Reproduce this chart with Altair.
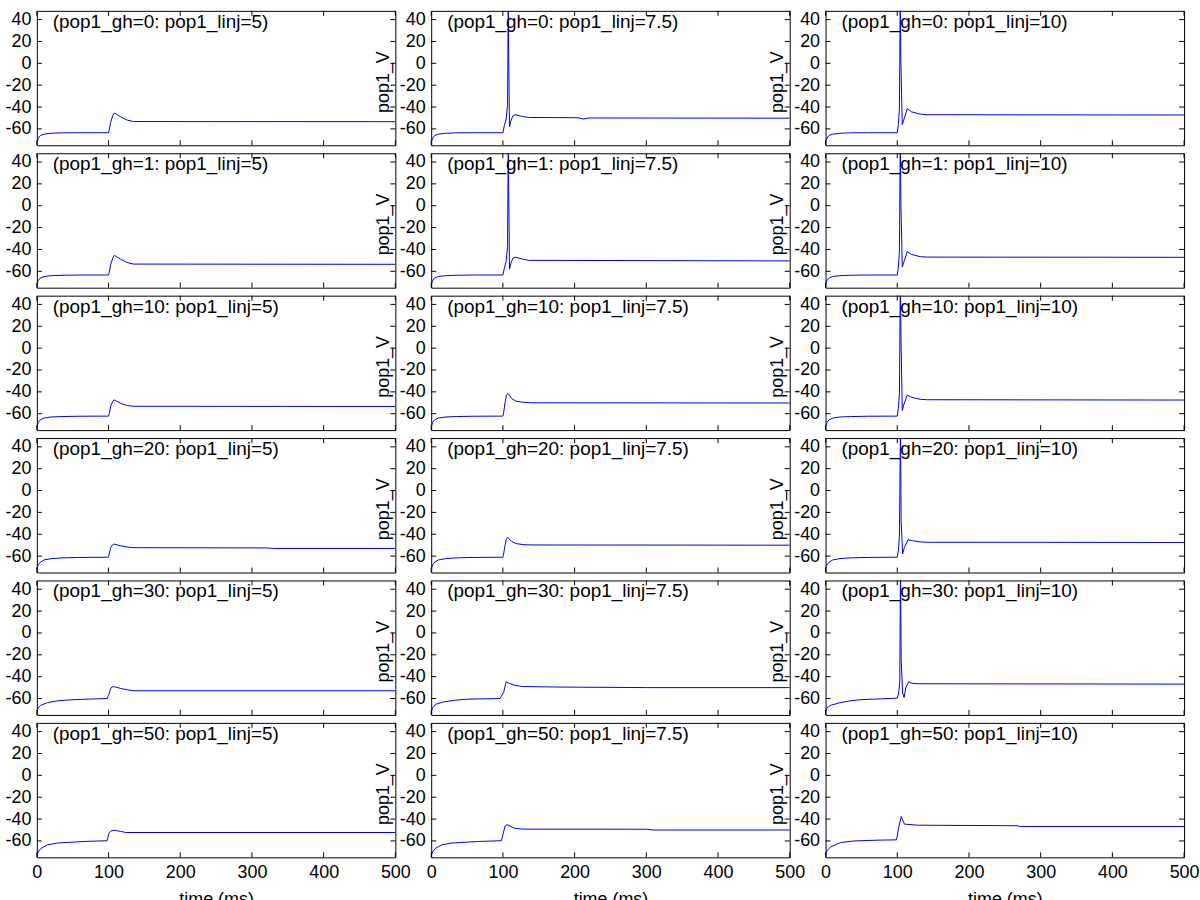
import altair as alt
import pandas as pd

gh_values = [0, 1, 10, 20, 30, 50]
linj_values = ["5", "7.5", "10"]
x_ticks = [0, 100, 200, 300, 400, 500]
y_ticks = [-60, -40, -20, 0, 20, 40]
x_domain = [0, 500]
y_domain = [-75, 48]

# ---- gh = 0 ----
t_gh0_i5 = [0, 2, 5, 10, 20, 35, 60, 100, 101, 103, 106, 108, 111, 117, 126, 135, 500]
v_gh0_i5 = [-72, -68.5, -66, -64.8, -64, -63.6, -63.5, -63.5, -61, -54, -47.5, -45.5, -46.5, -49, -52, -53.3, -53.4]
t_gh0_i75 = [0, 2, 5, 10, 20, 35, 60, 100, 102, 104.5, 106.5, 107.5, 108.1, 109.2, 111, 114, 117, 127, 136, 205, 212, 220, 500]
v_gh0_i75 = [-72, -68.5, -66, -64.8, -64, -63.6, -63.5, -63.5, -57, -51, -38, 60, 6, -58, -53, -48, -47, -48.6, -49.5, -49.8, -51, -50, -50.2]
t_gh0_i10 = [0, 2, 5, 10, 20, 35, 60, 100, 101.5, 103, 104.2, 105.1, 107, 109, 114, 120, 132, 142, 500]
v_gh0_i10 = [-72, -68.5, -66, -64.8, -64, -63.6, -63.5, -63.5, -56, -42, 60, 0, -56, -52, -41.5, -44.4, -46.5, -47, -47.3]

# ---- gh = 1 ----
t_gh1_i5 = [0, 2, 5, 10, 20, 35, 60, 100, 101, 103, 106, 108, 111, 117, 126, 135, 500]
v_gh1_i5 = [-72, -68.5, -66, -64.8, -64, -63.6, -63.4, -63.4, -61, -54, -47.5, -45.5, -46.5, -49, -52, -53.4, -53.6]
t_gh1_i75 = [0, 2, 5, 10, 20, 35, 60, 100, 102, 104.5, 106.5, 107.5, 108.1, 109.2, 111, 114, 117, 127, 136, 500]
v_gh1_i75 = [-72, -68.5, -66, -64.8, -64, -63.6, -63.4, -63.4, -57, -51, -38, 60, 13, -58, -53, -48, -47, -48.8, -50, -50.5]
t_gh1_i10 = [0, 2, 5, 10, 20, 35, 60, 100, 101.5, 103, 104.2, 105.1, 107, 109, 114, 120, 132, 142, 500]
v_gh1_i10 = [-72, -68.5, -66, -64.8, -64, -63.6, -63.4, -63.4, -56, -42, 60, 2, -56, -52, -42, -44.6, -46.6, -47, -47.2]

# ---- gh = 10 ----
t_gh10_i5 = [0, 2, 5, 10, 20, 35, 60, 100, 101, 103, 106, 108, 111, 117, 126, 135, 500]
v_gh10_i5 = [-72, -68, -65.5, -64, -63, -62.6, -62.3, -62.2, -60, -53, -48.5, -47.5, -48.5, -50.5, -52.5, -53.2, -53.4]
t_gh10_i75 = [0, 2, 5, 10, 20, 35, 60, 100, 101, 103, 105, 107, 109, 112, 118, 128, 140, 500]
v_gh10_i75 = [-72, -68, -65.5, -64, -63, -62.6, -62.3, -62.2, -59, -50, -43, -41.5, -43, -46, -48.5, -49.5, -50, -50.2]
t_gh10_i10 = [0, 2, 5, 10, 20, 35, 60, 100, 101.5, 103, 104.3, 105.2, 107, 109, 114, 120, 132, 142, 500]
v_gh10_i10 = [-72, -68, -65.5, -64, -63, -62.6, -62.3, -62.2, -55, -42, 60, 10, -57, -52, -43, -45, -46.8, -47.2, -47.5]

# ---- gh = 20 ----
t_gh20_i5 = [0, 2, 5, 10, 20, 35, 60, 100, 101, 103, 106, 108, 112, 120, 130, 140, 320, 330, 500]
v_gh20_i5 = [-72, -68, -65.5, -63.5, -62.3, -61.6, -61.2, -61, -58, -52, -49.5, -49, -49.8, -51, -52, -52.3, -52.5, -53, -53]
t_gh20_i75 = [0, 2, 5, 10, 20, 35, 60, 100, 101, 103, 105, 107, 109, 112, 118, 128, 140, 500]
v_gh20_i75 = [-72, -68, -65.5, -63.5, -62.3, -61.6, -61.2, -61, -58, -50, -44, -43, -44.5, -46.5, -48.5, -49.5, -49.8, -50]
t_gh20_i10 = [0, 2, 5, 10, 20, 35, 60, 100, 101.5, 103, 104.5, 105.4, 107.5, 110, 115, 121, 132, 142, 500]
v_gh20_i10 = [-72, -68, -65.5, -63.5, -62.3, -61.6, -61.2, -61, -55, -42, 60, -28, -58, -52, -45, -45.8, -47, -47.3, -47.5]

# ---- gh = 30 ----
t_gh30_i5 = [0, 2, 5.5, 15, 29, 47, 70, 98, 100.5, 103, 105, 110, 117, 126, 135, 500]
v_gh30_i5 = [-72, -68.5, -66.2, -63.7, -62.1, -61.2, -60.6, -60, -56, -51, -49.2, -49.5, -50.8, -52, -52.9, -52.9]
t_gh30_i75 = [0, 2, 6.5, 18, 34, 50, 96, 101, 104.6, 107, 115, 127, 178, 300, 500]
v_gh30_i75 = [-72, -68.5, -65.2, -63, -61.5, -60.6, -60, -54.5, -44.6, -45.5, -47.7, -49, -49.5, -50, -50]
t_gh30_i10 = [0, 2, 7, 19, 35, 50, 100, 102, 103.5, 104.5, 105.5, 107.5, 109.5, 112, 116, 120, 130, 500]
v_gh30_i10 = [-72, -68.5, -66.2, -64, -62, -61, -59.7, -55, -45, 60, -25, -55, -59, -50, -44.6, -46, -46.5, -46.8]

# ---- gh = 50 ----
t_gh50_i5 = [0, 2, 5.5, 15, 29, 66, 98, 100.5, 103, 105, 110, 117, 124, 500]
v_gh50_i5 = [-73, -70, -67, -63.5, -61.9, -60.5, -59.8, -53, -51, -50.4, -50.5, -51.3, -52.3, -52.3]
t_gh50_i75 = [0, 2, 5.5, 15, 29, 66, 98, 100.5, 103, 106, 110, 117, 128, 300, 310, 500]
v_gh50_i75 = [-73, -70, -67, -63.5, -61.9, -60.5, -59.8, -53, -46.5, -45, -46.5, -48.5, -49.2, -49.3, -50, -50]
t_gh50_i10 = [0, 2, 7, 21, 40, 72, 99, 102, 105.5, 108, 110, 128, 267, 272, 500]
v_gh50_i10 = [-73, -69, -65.5, -61.5, -60, -59.3, -59, -47.7, -37.8, -41.5, -44.6, -45.6, -46.1, -46.8, -46.8]

traces = {
    (0, "5"): (t_gh0_i5, v_gh0_i5), (0, "7.5"): (t_gh0_i75, v_gh0_i75), (0, "10"): (t_gh0_i10, v_gh0_i10),
    (1, "5"): (t_gh1_i5, v_gh1_i5), (1, "7.5"): (t_gh1_i75, v_gh1_i75), (1, "10"): (t_gh1_i10, v_gh1_i10),
    (10, "5"): (t_gh10_i5, v_gh10_i5), (10, "7.5"): (t_gh10_i75, v_gh10_i75), (10, "10"): (t_gh10_i10, v_gh10_i10),
    (20, "5"): (t_gh20_i5, v_gh20_i5), (20, "7.5"): (t_gh20_i75, v_gh20_i75), (20, "10"): (t_gh20_i10, v_gh20_i10),
    (30, "5"): (t_gh30_i5, v_gh30_i5), (30, "7.5"): (t_gh30_i75, v_gh30_i75), (30, "10"): (t_gh30_i10, v_gh30_i10),
    (50, "5"): (t_gh50_i5, v_gh50_i5), (50, "7.5"): (t_gh50_i75, v_gh50_i75), (50, "10"): (t_gh50_i10, v_gh50_i10),
}

W, H = 360, 135
FONT = "Liberation Sans"
LINE = "#0000e0"
TICK = 5


def make_axes(first_col, last_row):
    if last_row:
        xaxis = alt.Axis(values=x_ticks, ticks=False, domain=False, grid=False,
                         labelPadding=6, title="time (ms)", titlePadding=9,
                         labelFlush=False)
    else:
        xaxis = alt.Axis(values=x_ticks, ticks=False, domain=False, grid=False,
                         labels=False, title="")
    yaxis = alt.Axis(values=y_ticks, ticks=False, domain=False, grid=False,
                     labelPadding=6, labelExpr="datum.value + ''",
                     title=("" if first_col else "pop1_V"),
                     titleX=-39, titleY=71)
    return xaxis, yaxis


def panel(gh, linj, first_col, last_row):
    t, v = traces[(gh, linj)]
    df = pd.DataFrame({"t": t, "v": v})
    xs = alt.Scale(domain=x_domain, nice=False, zero=False)
    ys = alt.Scale(domain=y_domain, nice=False, zero=False)
    xaxis, yaxis = make_axes(first_col, last_row)
    X = alt.X("t:Q", scale=xs, axis=xaxis)
    Y = alt.Y("v:Q", scale=ys, axis=yaxis)
    line = alt.Chart(df).mark_line(color=LINE, strokeWidth=1, clip=True).encode(x=X, y=Y)
    xt = pd.DataFrame({"t": x_ticks})
    yt = pd.DataFrame({"v": y_ticks})
    bottom = alt.Chart(xt).mark_rule(color="black", strokeWidth=1).encode(
        x=X, y=alt.value(H), y2=alt.value(H - TICK))
    top = alt.Chart(xt).mark_rule(color="black", strokeWidth=1).encode(
        x=X, y=alt.value(0), y2=alt.value(TICK))
    left = alt.Chart(yt).mark_rule(color="black", strokeWidth=1).encode(
        y=Y, x=alt.value(0), x2=alt.value(TICK))
    right = alt.Chart(yt).mark_rule(color="black", strokeWidth=1).encode(
        y=Y, x=alt.value(W), x2=alt.value(W - TICK))
    lab = pd.DataFrame({"label": [f"(pop1_gh={gh}: pop1_linj={linj})"]})
    text = alt.Chart(lab).mark_text(align="left", baseline="middle", font=FONT,
                                    fontSize=19, color="black").encode(
        x=alt.value(16), y=alt.value(11), text="label:N")
    return alt.layer(line, bottom, top, left, right, text).properties(width=W, height=H)


cells = []
for ri, gh in enumerate(gh_values):
    for ci, linj in enumerate(linj_values):
        cells.append(panel(gh, linj, ci == 0, ri == len(gh_values) - 1))

chart = alt.concat(*cells, columns=3, spacing={"row": 8, "column": 36}, bounds="flush").properties(
    padding={"left": 4, "top": 8, "right": 0, "bottom": 0},
    background="white",
).configure_view(
    stroke="black", strokeWidth=1
).configure_axis(
    labelFont=FONT, labelFontSize=18, labelColor="black",
    titleFont=FONT, titleFontSize=18, titleFontWeight="normal", titleColor="black",
)

chart.save("out.html", embed_options={"renderer": "svg", "actions": False})
